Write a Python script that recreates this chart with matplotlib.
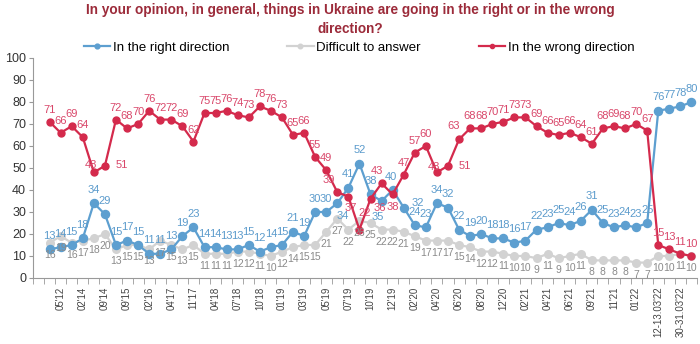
import matplotlib
matplotlib.use("Agg")
import matplotlib.pyplot as plt
import numpy as np

plt.rcParams['font.family'] = ['Liberation Sans Narrow', 'Liberation Sans', 'DejaVu Sans']

# survey waves (every other one gets a tick label)
tick_labels = ["05'12", "02'14", "09'14", "09'15", "02'16", "04'17", "11'17", "04'18",
               "07'18", "10'18", "01'19", "03'19", "05'19", "07'19", "10'19", "12'19",
               "02'20", "04'20", "06'20", "08'20", "12'20", "02'21", "04'21", "06'21",
               "09'21", "11'21", "01'22", "12-13.03'22", "30-31.03'22"]

right = [13, 14, 15, 18, 34, 29, 15, 17, 15, 11, 11, 13, 19, 23, 14, 14, 13, 13, 15, 12,
         14, 15, 21, 19, 30, 30, 34, 41, 52, 38, 35, 40, 32, 24, 23, 34, 32, 22, 19, 20,
         18, 18, 16, 17, 22, 23, 25, 24, 26, 31, 25, 23, 24, 23, 25, 76, 77, 78, 80]
difficult = [16, 19, 16, 17, 18, 20, 13, 15, 15, 13, 17, 15, 13, 15, 11, 11, 11, 12, 12, 11,
             10, 12, 14, 15, 15, 21, 27, 22, 26, 25, 22, 22, 21, 19, 17, 17, 17, 15, 14, 12,
             12, 11, 10, 10, 9, 11, 9, 10, 11, 8, 8, 8, 8, 7, 7, 10, 10, 11, 10]
wrong = [71, 66, 69, 64, 48, 51, 72, 68, 70, 76, 72, 72, 69, 62, 75, 75, 76, 74, 73, 78,
         76, 73, 65, 66, 55, 49, 39, 37, 22, 36, 43, 38, 47, 57, 60, 48, 51, 63, 68, 68,
         70, 71, 73, 73, 69, 66, 65, 66, 64, 61, 68, 69, 68, 70, 67, 15, 13, 11, 10]

blue, blue_txt = '#5d9fd0', '#5b9bcc'
grey, grey_txt = '#d2d2d2', '#8a8a8a'
red, red_txt = '#d42a4c', '#d9476a'

x = np.arange(len(right))

fig = plt.figure(figsize=(7, 3.44), dpi=100)
ax = fig.add_axes([0.0471, 0.1919, 0.9486, 0.6395])

ax.plot(x, right, color=blue, lw=1.6, marker='o', ms=5.8, label='In the right direction', zorder=3)
ax.plot(x, difficult, color=grey, lw=1.6, marker='o', ms=5.5, label='Difficult to answer', zorder=2)
ax.plot(x, wrong, color=red, lw=1.6, marker='o', ms=5.0, label='In the wrong direction', zorder=4)

# value labels: blue/red above, grey below, with a few nudged off the lines
red_nudge = {4: (-2, 2), 5: (12, -3), 26: (-6, 5), 27: (2, -12), 28: (4, 8),
             29: (7, -10), 30: (-3, 5), 31: (0, -13), 35: (-2, 0), 36: (12, -4), 37: (-4, 6)}
blue_nudge = {26: (4, -13), 31: (-1, 6), 32: (10, 0), 30: (-3, -15)}
for i in x:
    dx, dy = blue_nudge.get(i, (0, 6))
    ax.annotate(str(right[i]), (i, right[i]), xytext=(dx, dy), textcoords='offset points',
                ha='center', va='bottom', fontsize=8, color=blue_txt, zorder=6)
    dx, dy = red_nudge.get(i, (0, 5))
    ax.annotate(str(wrong[i]), (i, wrong[i]), xytext=(dx, dy), textcoords='offset points',
                ha='center', va='bottom', fontsize=8, color=red_txt, zorder=6)
    ax.annotate(str(difficult[i]), (i, difficult[i]), xytext=(0, -5), textcoords='offset points',
                ha='center', va='top', fontsize=7.5, color=grey_txt, zorder=6)

ax.set_xlim(-1.5, len(x) - 0.5)
ax.set_ylim(0, 100)
ax.set_yticks(range(0, 101, 10))
ax.tick_params(axis='y', labelsize=9, length=3, color='#999999', labelcolor='#333333', pad=2)

ax.set_xticks(x[1::2])
ax.set_xticklabels(tick_labels, rotation=90, fontsize=7, color='#444444')
ax.set_xticks(np.arange(-1.5, len(x), 1), minor=True)
ax.tick_params(axis='x', which='major', length=0, pad=6)
ax.tick_params(axis='x', which='minor', length=4, color='#999999')

for s in ['top', 'right']:
    ax.spines[s].set_visible(False)
for s in ['left', 'bottom']:
    ax.spines[s].set_color('#999999')

fig.suptitle('In your opinion, in general, things in Ukraine are going in the right or in the wrong\ndirection?',
             x=0.5, y=0.99, fontsize=9.8, fontweight='bold', color='#9c2b3a', linespacing=1.45)

fig.legend(loc='center', bbox_to_anchor=(0.513, 0.862), ncol=3, frameon=False, fontsize=9.5,
           columnspacing=4.4, handlelength=2.0, handletextpad=0.2, markerscale=0.6)

fig.savefig('out.png', dpi=100)
